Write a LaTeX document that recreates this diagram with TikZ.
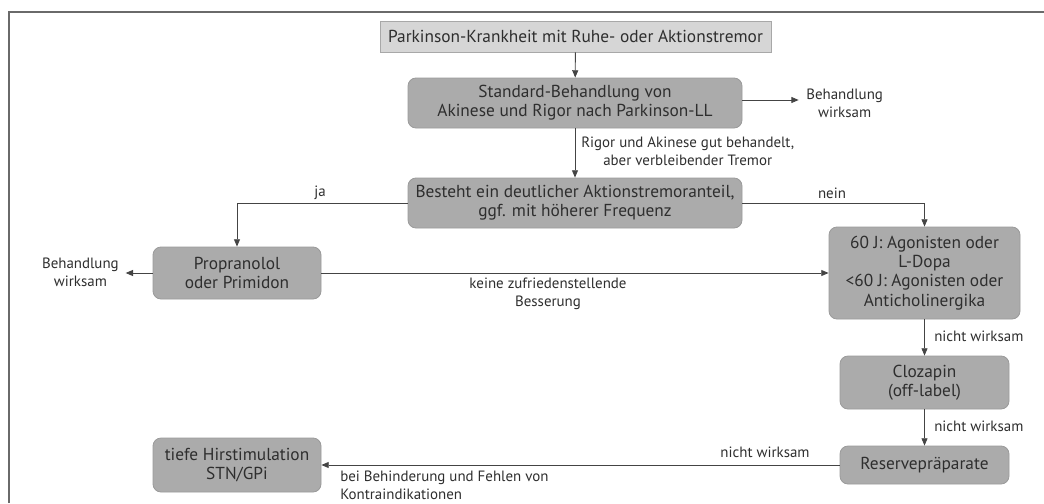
\documentclass[tikz,border=0pt]{standalone}
\usepackage{fontspec}
\setmainfont{PT Sans}
\usetikzlibrary{arrows.meta,positioning}
\definecolor{txt}{HTML}{2E2E2E}
\definecolor{lightbox}{HTML}{D6D6D6}
\definecolor{lightline}{HTML}{A8A8A8}
\definecolor{darkbox}{HTML}{ABABAB}
\definecolor{darkline}{HTML}{9A9A9A}
\definecolor{conn}{HTML}{444444}
\definecolor{framec}{HTML}{6A6A6A}
\tikzset{
  boxtext/.style={text=txt,font=\fontsize{13}{14.4}\selectfont,align=center,inner sep=0pt},
  topbox/.style={boxtext,draw=lightline,fill=lightbox,line width=0.6pt},
  rbox/.style={boxtext,draw=darkline,fill=darkbox,rounded corners=6pt,line width=0.6pt},
  lbl/.style={text=txt,font=\fontsize{11.2}{13.5}\selectfont,align=center,inner sep=0pt},
  conn/.style={draw=conn,line width=0.65pt,-{Triangle[width=4.5pt,length=5.5pt]}},
  framel/.style={draw=framec,line width=0.8pt}
}
\begin{document}
\begin{tikzpicture}[x=0.75pt,y=-0.75pt]
\useasboundingbox (0,0) rectangle (1044,503);
\draw[framel] (9,503) -- (9,12) -- (1044,12);

\node[topbox,minimum width=293.25pt,minimum height=23.25pt] (top) at (575.5,36.5) {Parkinson-Krankheit mit Ruhe- oder Aktionstremor};
\node[rbox,minimum width=250.5pt,minimum height=37.5pt] (std) at (575,103) {Standard-Behandlung von\\Akinese und Rigor nach Parkinson-LL};
\node[rbox,minimum width=250.5pt,minimum height=37.5pt] (best) at (575,203) {Besteht ein deutlicher Aktionstremoranteil,\\ggf. mit höherer Frequenz};
\node[rbox,minimum width=126pt,minimum height=39pt] (prop) at (237,273) {Propranolol\\oder Primidon};
\node[rbox,minimum width=126pt,minimum height=40.5pt] (tief) at (237,465) {tiefe Hirstimulation\\STN/GPi};
\node[rbox,minimum width=143.25pt,minimum height=69pt] (sixty) at (924.5,273) {60 J: Agonisten oder\\L-Dopa\\<60 J: Agonisten oder\\Anticholinergika};
\node[rbox,minimum width=126.75pt,minimum height=39.75pt] (cloz) at (924.5,382.5) {Clozapin\\(off-label)};
\node[rbox,minimum width=126.75pt,minimum height=28.5pt] (res) at (924.5,465) {Reservepräparate};

% labels
\node[lbl,anchor=west] (bw1) at (806,103) {Behandlung\\wirksam};
\node[lbl,anchor=east] (bw2) at (119,272) {Behandlung\\wirksam};
\node[lbl,anchor=west] (rig) at (581,151) {Rigor und Akinese gut behandelt,\\aber verbleibender Tremor};
\node[lbl] (ja) at (320,193) {ja};
\node[lbl] (nein) at (832,193) {nein};
\node[lbl] (keine) at (548,294) {keine zufriedenstellende\\Besserung};
\node[lbl,anchor=west] (nw1) at (934,336) {nicht wirksam};
\node[lbl,anchor=west] (nw2) at (934,426) {nicht wirksam};
\node[lbl] (nw3) at (765,452) {nicht wirksam};
\node[lbl,anchor=north west,align=left] (bei) at (340,471) {bei Behinderung und Fehlen von\\Kontraindikationen};

% connectors
\draw[conn] (top) -- (std);
\draw[conn] (std.east |- 0,100) -- ([xshift=-5.5pt]bw1.west |- 0,100);
\draw[conn] (std) -- (best);
\draw[conn] (best.west) -| (prop.north);
\draw[conn] (best.east) -| (sixty.north);
\draw[conn] (prop.west) -- ([xshift=5pt]bw2.east |- prop.west);
\draw[conn] (prop.east) -- (sixty.west |- prop.east);
\draw[conn] (sixty) -- (cloz);
\draw[conn] (cloz) -- (res);
\draw[conn] (res.west) -- (tief.east |- res.west);
\end{tikzpicture}
\end{document}
